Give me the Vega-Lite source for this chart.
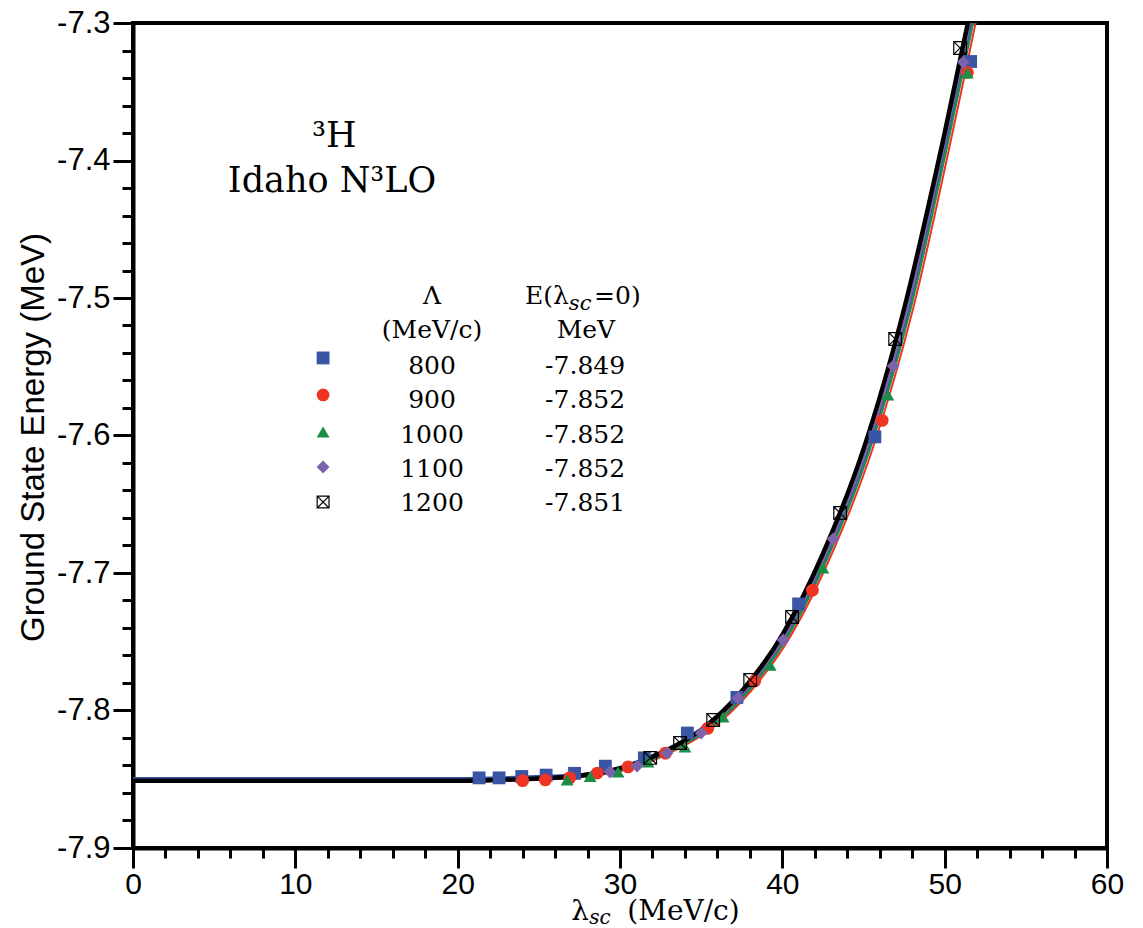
{
"$schema": "https://vega.github.io/schema/vega-lite/v6.json",
"autosize": "none",
"padding": {"left": 133, "top": 23, "right": 36, "bottom": 80},
"width": 974,
"height": 825,
"background": "white",
"config": {"view": {"stroke": "black", "strokeWidth": 4}, "axis": {"labelOverlap": false, "labelFlush": false}},
"resolve": {"axis": {"x": "independent", "y": "independent"}},
"datasets": {
"pts": [
{"lam":21.32,"E":-7.849,"s":"800"},{"lam":22.55,"E":-7.849,"s":"800"},{"lam":23.95,"E":-7.848,"s":"800"},{"lam":25.45,"E":-7.847,"s":"800"},{"lam":27.2,"E":-7.8457,"s":"800"},{"lam":29.1,"E":-7.8405,"s":"800"},{"lam":31.5,"E":-7.8345,"s":"800"},{"lam":34.15,"E":-7.8164,"s":"800"},{"lam":37.2,"E":-7.7905,"s":"800"},{"lam":41.0,"E":-7.7225,"s":"800"},{"lam":45.7,"E":-7.601,"s":"800"},{"lam":51.6,"E":-7.328,"s":"800"},
{"lam":24.0,"E":-7.851,"s":"900"},{"lam":25.4,"E":-7.8505,"s":"900"},{"lam":26.9,"E":-7.849,"s":"900"},{"lam":28.6,"E":-7.8455,"s":"900"},{"lam":30.5,"E":-7.841,"s":"900"},{"lam":32.8,"E":-7.831,"s":"900"},{"lam":35.4,"E":-7.813,"s":"900"},{"lam":38.3,"E":-7.7785,"s":"900"},{"lam":41.85,"E":-7.7125,"s":"900"},{"lam":46.15,"E":-7.589,"s":"900"},{"lam":51.4,"E":-7.336,"s":"900"},
{"lam":26.74,"E":-7.8505,"s":"1000"},{"lam":28.16,"E":-7.848,"s":"1000"},{"lam":29.88,"E":-7.8447,"s":"1000"},{"lam":31.73,"E":-7.8375,"s":"1000"},{"lam":34.0,"E":-7.8265,"s":"1000"},{"lam":36.35,"E":-7.8047,"s":"1000"},{"lam":39.25,"E":-7.767,"s":"1000"},{"lam":42.5,"E":-7.6964,"s":"1000"},{"lam":46.5,"E":-7.5705,"s":"1000"},{"lam":51.4,"E":-7.3364,"s":"1000"},
{"lam":29.39,"E":-7.8447,"s":"1100"},{"lam":31.05,"E":-7.8404,"s":"1100"},{"lam":32.9,"E":-7.8309,"s":"1100"},{"lam":35.0,"E":-7.8164,"s":"1100"},{"lam":37.28,"E":-7.7909,"s":"1100"},{"lam":40.05,"E":-7.7487,"s":"1100"},{"lam":43.13,"E":-7.6753,"s":"1100"},{"lam":46.83,"E":-7.5495,"s":"1100"},{"lam":51.14,"E":-7.3284,"s":"1100"},
{"lam":31.86,"E":-7.8345,"s":"1200"},{"lam":33.7,"E":-7.8236,"s":"1200"},{"lam":35.74,"E":-7.8069,"s":"1200"},{"lam":38.02,"E":-7.7778,"s":"1200"},{"lam":40.6,"E":-7.732,"s":"1200"},{"lam":43.56,"E":-7.6564,"s":"1200"},{"lam":46.95,"E":-7.5298,"s":"1200"},{"lam":50.95,"E":-7.3182,"s":"1200"}
],
"lines": [
{"lam":0,"E":-7.849,"s":"800"},{"lam":15,"E":-7.849,"s":"800"},{"lam":20,"E":-7.849,"s":"800"},{"lam":22.8,"E":-7.8485,"s":"800"},{"lam":25.3,"E":-7.8475,"s":"800"},{"lam":27.8,"E":-7.846,"s":"800"},{"lam":30.3,"E":-7.8415,"s":"800"},{"lam":32.8,"E":-7.831,"s":"800"},{"lam":35.3,"E":-7.814,"s":"800"},{"lam":37.8,"E":-7.786,"s":"800"},{"lam":40.3,"E":-7.745,"s":"800"},{"lam":42.8,"E":-7.686,"s":"800"},{"lam":45.3,"E":-7.61,"s":"800"},{"lam":47.8,"E":-7.508,"s":"800"},{"lam":50.3,"E":-7.376,"s":"800"},{"lam":52.3,"E":-7.262,"s":"800"},{"lam":53.3,"E":-7.2,"s":"800"},
{"lam":0,"E":-7.852,"s":"900"},{"lam":15,"E":-7.852,"s":"900"},{"lam":20,"E":-7.852,"s":"900"},{"lam":23.05,"E":-7.851,"s":"900"},{"lam":25.55,"E":-7.8502,"s":"900"},{"lam":28.05,"E":-7.848,"s":"900"},{"lam":30.55,"E":-7.8425,"s":"900"},{"lam":33.05,"E":-7.831,"s":"900"},{"lam":35.55,"E":-7.814,"s":"900"},{"lam":38.05,"E":-7.786,"s":"900"},{"lam":40.55,"E":-7.745,"s":"900"},{"lam":43.05,"E":-7.686,"s":"900"},{"lam":45.55,"E":-7.61,"s":"900"},{"lam":48.05,"E":-7.508,"s":"900"},{"lam":50.55,"E":-7.376,"s":"900"},{"lam":52.55,"E":-7.262,"s":"900"},{"lam":53.55,"E":-7.2,"s":"900"},
{"lam":0,"E":-7.852,"s":"1000"},{"lam":15,"E":-7.852,"s":"1000"},{"lam":20,"E":-7.852,"s":"1000"},{"lam":22.9,"E":-7.851,"s":"1000"},{"lam":25.4,"E":-7.8502,"s":"1000"},{"lam":27.9,"E":-7.848,"s":"1000"},{"lam":30.4,"E":-7.8425,"s":"1000"},{"lam":32.9,"E":-7.831,"s":"1000"},{"lam":35.4,"E":-7.814,"s":"1000"},{"lam":37.9,"E":-7.786,"s":"1000"},{"lam":40.4,"E":-7.745,"s":"1000"},{"lam":42.9,"E":-7.686,"s":"1000"},{"lam":45.4,"E":-7.61,"s":"1000"},{"lam":47.9,"E":-7.508,"s":"1000"},{"lam":50.4,"E":-7.376,"s":"1000"},{"lam":52.4,"E":-7.262,"s":"1000"},{"lam":53.4,"E":-7.2,"s":"1000"},
{"lam":0,"E":-7.852,"s":"1100"},{"lam":15,"E":-7.852,"s":"1100"},{"lam":20,"E":-7.852,"s":"1100"},{"lam":22.7,"E":-7.851,"s":"1100"},{"lam":25.2,"E":-7.8502,"s":"1100"},{"lam":27.7,"E":-7.848,"s":"1100"},{"lam":30.2,"E":-7.8425,"s":"1100"},{"lam":32.7,"E":-7.831,"s":"1100"},{"lam":35.2,"E":-7.814,"s":"1100"},{"lam":37.7,"E":-7.786,"s":"1100"},{"lam":40.2,"E":-7.745,"s":"1100"},{"lam":42.7,"E":-7.686,"s":"1100"},{"lam":45.2,"E":-7.61,"s":"1100"},{"lam":47.7,"E":-7.508,"s":"1100"},{"lam":50.2,"E":-7.376,"s":"1100"},{"lam":52.2,"E":-7.262,"s":"1100"},{"lam":53.2,"E":-7.2,"s":"1100"},
{"lam":0,"E":-7.851,"s":"1200"},{"lam":15,"E":-7.851,"s":"1200"},{"lam":20,"E":-7.851,"s":"1200"},{"lam":22.5,"E":-7.8505,"s":"1200"},{"lam":25,"E":-7.8495,"s":"1200"},{"lam":27.5,"E":-7.8475,"s":"1200"},{"lam":30,"E":-7.842,"s":"1200"},{"lam":32.5,"E":-7.831,"s":"1200"},{"lam":35,"E":-7.814,"s":"1200"},{"lam":37.5,"E":-7.786,"s":"1200"},{"lam":40,"E":-7.745,"s":"1200"},{"lam":42.5,"E":-7.686,"s":"1200"},{"lam":45,"E":-7.61,"s":"1200"},{"lam":47.5,"E":-7.508,"s":"1200"},{"lam":50,"E":-7.38,"s":"1200"},{"lam":52,"E":-7.268,"s":"1200"},{"lam":53,"E":-7.21,"s":"1200"}
]
},
"layer": [
{"data": {"name": "lines"}, "transform": [{"filter": "datum.s !== '1200'"}],
 "mark": {"type": "line", "clip": true, "strokeWidth": 2, "interpolate": "monotone"},
 "encoding": {
  "x": {"field": "lam", "type": "quantitative",
  "scale": {"domain": [0, 60], "nice": false, "zero": false},
  "axis": {"title": null, "values": [0,2,4,6,8,10,12,14,16,18,20,22,24,26,28,30,32,34,36,38,40,42,44,46,48,50,52,54,56,58,60],
    "labelExpr": "datum.value % 10 === 0 ? datum.label : ''",
    "tickSize": {"condition": {"test": "datum.value % 10 === 0", "value": 20}, "value": 10},
    "tickWidth": 3, "tickColor": "black", "domainColor": "black", "domainWidth": 4, "grid": false,
    "labelFont": "Liberation Sans", "labelFontSize": 30, "labelColor": "black", "labelPadding": 1,
    "labelOverlap": false, "labelFlush": false}},
  "y": {"field": "E", "type": "quantitative",
  "scale": {"domain": [-7.9, -7.3], "nice": false, "zero": false},
  "axis": {"title": "Ground State Energy (MeV)",
    "values": [-7.9,-7.88,-7.86,-7.84,-7.82,-7.8,-7.78,-7.76,-7.74,-7.72,-7.7,-7.68,-7.66,-7.64,-7.62,-7.6,-7.58,-7.56,-7.54,-7.52,-7.5,-7.48,-7.46,-7.44,-7.42,-7.4,-7.38,-7.36,-7.34,-7.32,-7.3],
    "format": ".1f",
    "labelExpr": "abs(datum.value*10 - round(datum.value*10)) < 0.001 ? replace(datum.label, '\u2212', '-') : ''",
    "tickSize": {"condition": {"test": "abs(datum.value*10 - round(datum.value*10)) < 0.001", "value": 20}, "value": 11},
    "tickWidth": 3, "tickColor": "black", "domainColor": "black", "domainWidth": 4, "grid": false,
    "labelFont": "Liberation Sans", "labelFontSize": 31, "labelColor": "black", "labelPadding": 3,
    "labelOverlap": false,
    "titleFont": "Liberation Sans", "titleFontSize": 33, "titleFontWeight": "normal", "titleColor": "black",
    "titleX": -100, "titleY": 414, "titleAngle": -90, "titleAlign": "center", "titleBaseline": "middle"}},
  "color": {"field": "s", "type": "nominal", "legend": null,
   "scale": {"domain": ["800","900","1000","1100","1200"], "range": ["#3a55a4","#ee3524","#1b8e45","#7b62ac","#000000"]}},
  "order": {"field": "lam", "type": "quantitative"}}},
{"data": {"name": "lines"}, "transform": [{"filter": "datum.s === '1200'"}],
 "mark": {"type": "line", "clip": true, "strokeWidth": 4.5, "color": "black", "interpolate": "monotone"},
 "encoding": {"x": {"field": "lam", "type": "quantitative", "axis": null}, "y": {"field": "E", "type": "quantitative", "axis": null}, "order": {"field": "lam", "type": "quantitative"}}},
{"data": {"name": "pts"}, "transform": [{"filter": "datum.s !== '1200'"}],
 "mark": {"type": "point", "filled": true, "opacity": 1, "size": 165},
 "encoding": {"x": {"field": "lam", "type": "quantitative", "axis": null}, "y": {"field": "E", "type": "quantitative", "axis": null},
   "color": {"field": "s", "type": "nominal", "legend": null},
   "shape": {"field": "s", "type": "nominal", "legend": null,
     "scale": {"domain": ["800","900","1000","1100"], "range": ["square","circle","triangle-up","diamond"]}}}},
{"data": {"name": "pts"}, "transform": [{"filter": "datum.s === '1200'"}],
 "mark": {"type": "point", "filled": false, "opacity": 1, "size": 160, "stroke": "black", "strokeWidth": 1.2,
   "shape": "M-1,-1H1V1H-1Z M-1,-1L1,1 M-1,1L1,-1"},
 "encoding": {"x": {"field": "lam", "type": "quantitative", "axis": null}, "y": {"field": "E", "type": "quantitative", "axis": null}}},

{"data": {"values": [{"t": 1}]}, "mark": {"type": "text", "font": "DejaVu Serif", "fontSize": 35, "align": "center", "baseline": "alphabetic", "color": "black", "text": "³H"},
 "encoding": {"x": {"datum": 12.4, "type": "quantitative", "axis": null}, "y": {"datum": -7.39, "type": "quantitative", "axis": null}}},
{"data": {"values": [{"t": 1}]}, "mark": {"type": "text", "font": "DejaVu Serif", "fontSize": 35, "align": "center", "baseline": "alphabetic", "color": "black", "text": "Idaho N³LO"},
 "encoding": {"x": {"datum": 12.26, "type": "quantitative", "axis": null}, "y": {"datum": -7.4227, "type": "quantitative", "axis": null}}},

{"data": {"values": [{"t": 1}]}, "mark": {"type": "text", "font": "DejaVu Serif", "fontSize": 25, "align": "center", "baseline": "alphabetic", "color": "black", "text": "Λ"},
 "encoding": {"x": {"datum": 18.42, "type": "quantitative", "axis": null}, "y": {"datum": -7.5047, "type": "quantitative", "axis": null}}},
{"data": {"values": [{"t": 1}]}, "mark": {"type": "text", "font": "DejaVu Serif", "fontSize": 25, "align": "center", "baseline": "alphabetic", "color": "black", "text": "(MeV/c)"},
 "encoding": {"x": {"datum": 18.42, "type": "quantitative", "axis": null}, "y": {"datum": -7.5293, "type": "quantitative", "axis": null}}},
{"data": {"values": [{"t": 1}]}, "mark": {"type": "text", "font": "DejaVu Serif", "fontSize": 25, "align": "left", "baseline": "alphabetic", "color": "black", "text": "E(λ"},
 "encoding": {"x": {"datum": 24.15, "type": "quantitative", "axis": null}, "y": {"datum": -7.5047, "type": "quantitative", "axis": null}}},
{"data": {"values": [{"t": 1}]}, "mark": {"type": "text", "font": "DejaVu Serif", "fontSize": 21, "fontStyle": "italic", "align": "left", "baseline": "alphabetic", "color": "black", "text": "sc"},
 "encoding": {"x": {"datum": 26.85, "type": "quantitative", "axis": null}, "y": {"datum": -7.5087, "type": "quantitative", "axis": null}}},
{"data": {"values": [{"t": 1}]}, "mark": {"type": "text", "font": "DejaVu Serif", "fontSize": 25, "align": "left", "baseline": "alphabetic", "color": "black", "text": "=0)"},
 "encoding": {"x": {"datum": 28.4, "type": "quantitative", "axis": null}, "y": {"datum": -7.5047, "type": "quantitative", "axis": null}}},
{"data": {"values": [{"t": 1}]}, "mark": {"type": "text", "font": "DejaVu Serif", "fontSize": 25, "align": "center", "baseline": "alphabetic", "color": "black", "text": "MeV"},
 "encoding": {"x": {"datum": 27.9, "type": "quantitative", "axis": null}, "y": {"datum": -7.5293, "type": "quantitative", "axis": null}}},

{"data": {"values": [{"t": 1}]}, "mark": {"type": "point", "filled": true, "opacity": 1, "size": 165, "shape": "square", "color": "#3a55a4"},
 "encoding": {"x": {"datum": 11.71, "type": "quantitative", "axis": null}, "y": {"datum": -7.5436, "type": "quantitative", "axis": null}}},
{"data": {"values": [{"t": 1}]}, "mark": {"type": "point", "filled": true, "opacity": 1, "size": 165, "shape": "circle", "color": "#ee3524"},
 "encoding": {"x": {"datum": 11.71, "type": "quantitative", "axis": null}, "y": {"datum": -7.5705, "type": "quantitative", "axis": null}}},
{"data": {"values": [{"t": 1}]}, "mark": {"type": "point", "filled": true, "opacity": 1, "size": 165, "shape": "triangle-up", "color": "#1b8e45"},
 "encoding": {"x": {"datum": 11.71, "type": "quantitative", "axis": null}, "y": {"datum": -7.5975, "type": "quantitative", "axis": null}}},
{"data": {"values": [{"t": 1}]}, "mark": {"type": "point", "filled": true, "opacity": 1, "size": 165, "shape": "diamond", "color": "#7b62ac"},
 "encoding": {"x": {"datum": 11.71, "type": "quantitative", "axis": null}, "y": {"datum": -7.6229, "type": "quantitative", "axis": null}}},
{"data": {"values": [{"t": 1}]}, "mark": {"type": "point", "filled": false, "opacity": 1, "size": 140, "stroke": "black", "strokeWidth": 1.2, "shape": "M-1,-1H1V1H-1Z M-1,-1L1,1 M-1,1L1,-1"},
 "encoding": {"x": {"datum": 11.71, "type": "quantitative", "axis": null}, "y": {"datum": -7.6484, "type": "quantitative", "axis": null}}},

{"data": {"values": [{"t": 1}]}, "mark": {"type": "text", "font": "DejaVu Serif", "fontSize": 25, "align": "center", "baseline": "alphabetic", "color": "black", "text": "800"},
 "encoding": {"x": {"datum": 18.42, "type": "quantitative", "axis": null}, "y": {"datum": -7.5553, "type": "quantitative", "axis": null}}},
{"data": {"values": [{"t": 1}]}, "mark": {"type": "text", "font": "DejaVu Serif", "fontSize": 25, "align": "center", "baseline": "alphabetic", "color": "black", "text": "900"},
 "encoding": {"x": {"datum": 18.42, "type": "quantitative", "axis": null}, "y": {"datum": -7.58, "type": "quantitative", "axis": null}}},
{"data": {"values": [{"t": 1}]}, "mark": {"type": "text", "font": "DejaVu Serif", "fontSize": 25, "align": "center", "baseline": "alphabetic", "color": "black", "text": "1000"},
 "encoding": {"x": {"datum": 18.42, "type": "quantitative", "axis": null}, "y": {"datum": -7.6052, "type": "quantitative", "axis": null}}},
{"data": {"values": [{"t": 1}]}, "mark": {"type": "text", "font": "DejaVu Serif", "fontSize": 25, "align": "center", "baseline": "alphabetic", "color": "black", "text": "1100"},
 "encoding": {"x": {"datum": 18.42, "type": "quantitative", "axis": null}, "y": {"datum": -7.63, "type": "quantitative", "axis": null}}},
{"data": {"values": [{"t": 1}]}, "mark": {"type": "text", "font": "DejaVu Serif", "fontSize": 25, "align": "center", "baseline": "alphabetic", "color": "black", "text": "1200"},
 "encoding": {"x": {"datum": 18.42, "type": "quantitative", "axis": null}, "y": {"datum": -7.6547, "type": "quantitative", "axis": null}}},
{"data": {"values": [{"t": 1}]}, "mark": {"type": "text", "font": "DejaVu Serif", "fontSize": 25, "align": "center", "baseline": "alphabetic", "color": "black", "text": "-7.849"},
 "encoding": {"x": {"datum": 27.85, "type": "quantitative", "axis": null}, "y": {"datum": -7.5553, "type": "quantitative", "axis": null}}},
{"data": {"values": [{"t": 1}]}, "mark": {"type": "text", "font": "DejaVu Serif", "fontSize": 25, "align": "center", "baseline": "alphabetic", "color": "black", "text": "-7.852"},
 "encoding": {"x": {"datum": 27.85, "type": "quantitative", "axis": null}, "y": {"datum": -7.58, "type": "quantitative", "axis": null}}},
{"data": {"values": [{"t": 1}]}, "mark": {"type": "text", "font": "DejaVu Serif", "fontSize": 25, "align": "center", "baseline": "alphabetic", "color": "black", "text": "-7.852"},
 "encoding": {"x": {"datum": 27.85, "type": "quantitative", "axis": null}, "y": {"datum": -7.6052, "type": "quantitative", "axis": null}}},
{"data": {"values": [{"t": 1}]}, "mark": {"type": "text", "font": "DejaVu Serif", "fontSize": 25, "align": "center", "baseline": "alphabetic", "color": "black", "text": "-7.852"},
 "encoding": {"x": {"datum": 27.85, "type": "quantitative", "axis": null}, "y": {"datum": -7.63, "type": "quantitative", "axis": null}}},
{"data": {"values": [{"t": 1}]}, "mark": {"type": "text", "font": "DejaVu Serif", "fontSize": 25, "align": "center", "baseline": "alphabetic", "color": "black", "text": "-7.851"},
 "encoding": {"x": {"datum": 27.85, "type": "quantitative", "axis": null}, "y": {"datum": -7.6547, "type": "quantitative", "axis": null}}},

{"data": {"values": [{"t": 1}]}, "mark": {"type": "text", "font": "DejaVu Serif", "fontSize": 28, "align": "left", "baseline": "alphabetic", "color": "black", "text": "λ"},
 "encoding": {"x": {"datum": 27.0, "type": "quantitative", "axis": null}, "y": {"datum": -7.9527, "type": "quantitative", "axis": null}}},
{"data": {"values": [{"t": 1}]}, "mark": {"type": "text", "font": "DejaVu Serif", "fontSize": 20, "fontStyle": "italic", "align": "left", "baseline": "alphabetic", "color": "black", "text": "sc"},
 "encoding": {"x": {"datum": 28.1, "type": "quantitative", "axis": null}, "y": {"datum": -7.9555, "type": "quantitative", "axis": null}}},
{"data": {"values": [{"t": 1}]}, "mark": {"type": "text", "font": "DejaVu Serif", "fontSize": 28, "align": "left", "baseline": "alphabetic", "color": "black", "text": "(MeV/c)"},
 "encoding": {"x": {"datum": 30.45, "type": "quantitative", "axis": null}, "y": {"datum": -7.9527, "type": "quantitative", "axis": null}}}
]
}
